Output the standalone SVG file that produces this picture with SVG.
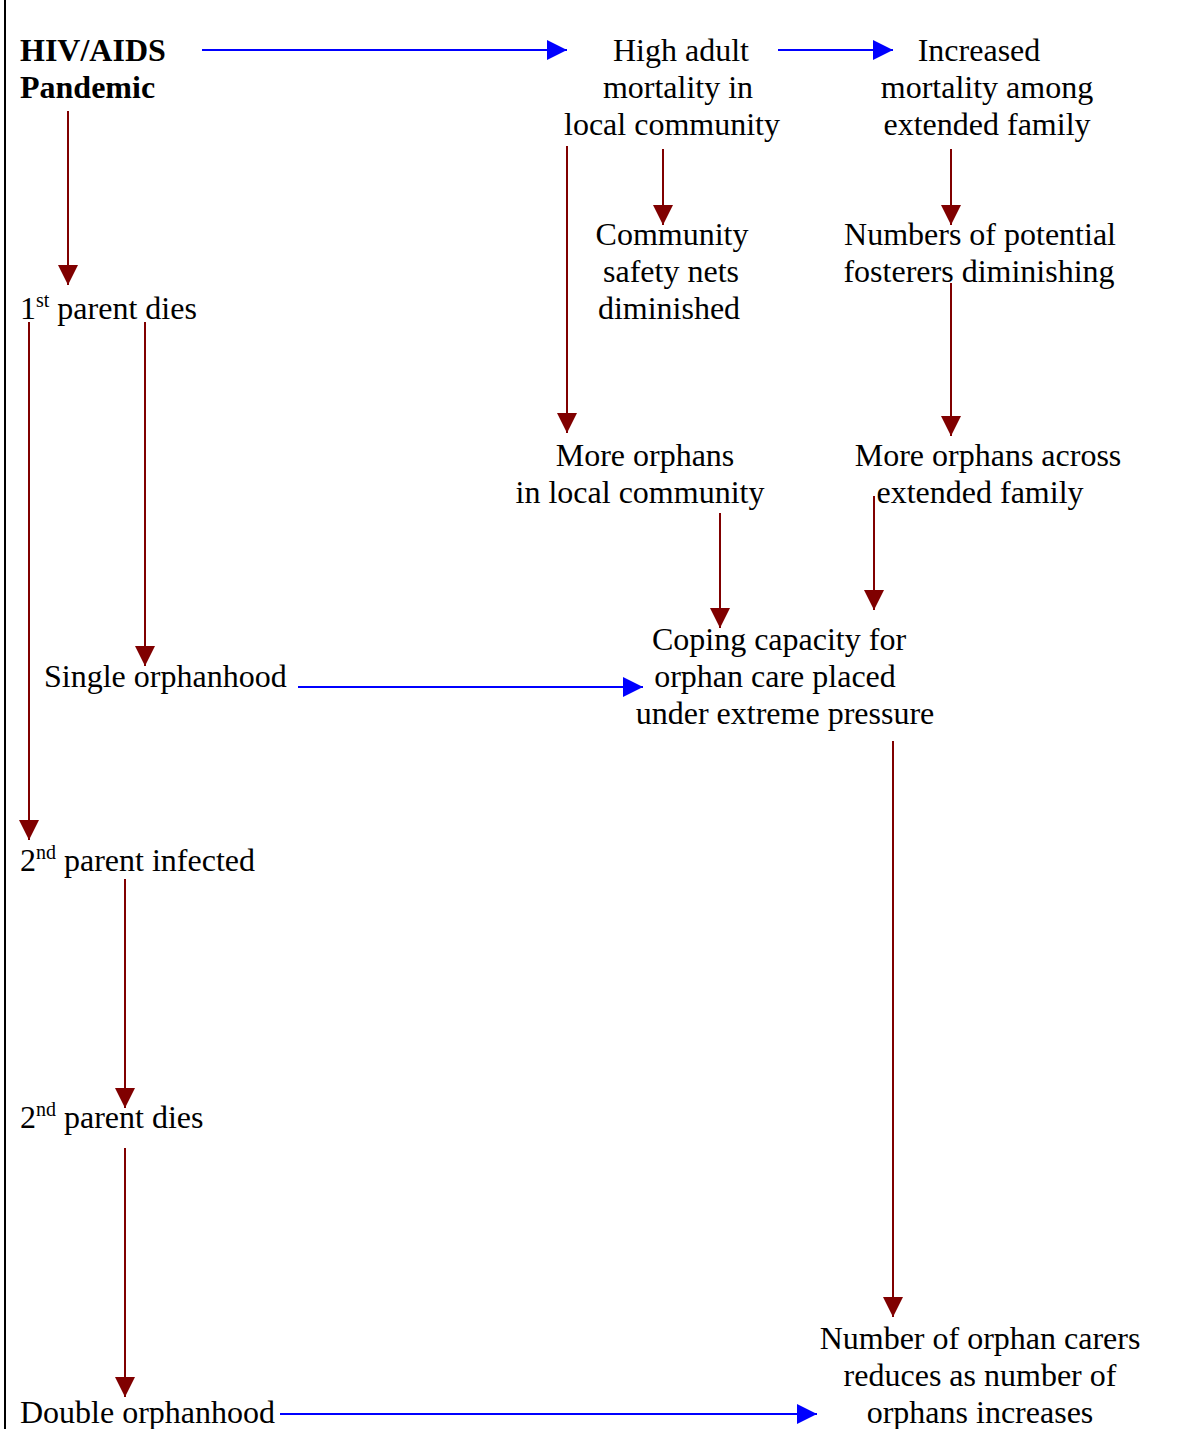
<svg xmlns="http://www.w3.org/2000/svg" width="1182" height="1429" viewBox="0 0 1182 1429">
<style>
text{font-family:"Liberation Serif","Times New Roman",serif;font-size:32px;fill:#000}
.b{font-weight:bold}
.m{text-anchor:middle}
.sup{font-size:20px}
.blue{stroke:#0000FF;stroke-width:2;fill:none;marker-end:url(#ab)}
.red{stroke:#800000;stroke-width:2;fill:none;marker-end:url(#ar)}
</style>
<defs>
<marker id="ab" markerUnits="userSpaceOnUse" markerWidth="22" markerHeight="20" refX="20" refY="10" orient="auto" viewBox="0 0 20 20"><path d="M0,0 L20,10 L0,20 z" fill="#0000FF"/></marker>
<marker id="ar" markerUnits="userSpaceOnUse" markerWidth="22" markerHeight="20" refX="20" refY="10" orient="auto" viewBox="0 0 20 20"><path d="M0,0 L20,10 L0,20 z" fill="#800000"/></marker>
</defs>
<rect width="1182" height="1429" fill="#fff"/>
<rect x="4" y="0" width="2" height="1429" fill="#000"/>
<g id="connectors">
<line class="blue" x1="202" y1="50" x2="567" y2="50"/>
<line class="blue" x1="778" y1="50" x2="893" y2="50"/>
<line class="blue" x1="298" y1="687" x2="643" y2="687"/>
<line class="blue" x1="280" y1="1414" x2="817" y2="1414"/>
<line class="red" x1="68" y1="111" x2="68" y2="285"/>
<line class="red" x1="567" y1="146" x2="567" y2="433"/>
<line class="red" x1="663" y1="149" x2="663" y2="225"/>
<line class="red" x1="951" y1="149" x2="951" y2="225"/>
<line class="red" x1="951" y1="283" x2="951" y2="436"/>
<line class="red" x1="29" y1="322" x2="29" y2="840"/>
<line class="red" x1="145" y1="322" x2="145" y2="666"/>
<line class="red" x1="720" y1="513" x2="720" y2="628"/>
<line class="red" x1="874" y1="496" x2="874" y2="610"/>
<line class="red" x1="125" y1="879" x2="125" y2="1108"/>
<line class="red" x1="893" y1="741" x2="893" y2="1317"/>
<line class="red" x1="125" y1="1148" x2="125" y2="1397"/>
</g>
<g id="hiv"><text class="b" x="20" y="61">HIV/AIDS</text><text class="b" x="20" y="98">Pandemic</text></g>
<g id="high-adult"><text class="m" x="681" y="61">High adult</text><text class="m" x="678" y="98">mortality in</text><text class="m" x="672" y="135">local community</text></g>
<g id="increased"><text class="m" x="979" y="61">Increased</text><text class="m" x="987" y="98">mortality among</text><text class="m" x="987" y="135">extended family</text></g>
<g id="safety-nets"><text class="m" x="672" y="245">Community</text><text class="m" x="671" y="282">safety nets</text><text class="m" x="669" y="319">diminished</text></g>
<g id="fosterers"><text class="m" x="980" y="245">Numbers of potential</text><text class="m" x="979" y="282">fosterers diminishing</text></g>
<g id="first-dies"><text x="20" y="319">1<tspan class="sup" dy="-12">st</tspan><tspan dy="12"> parent dies</tspan></text></g>
<g id="orphans-local"><text class="m" x="645" y="466">More orphans</text><text class="m" x="640" y="503">in local community</text></g>
<g id="orphans-extended"><text class="m" x="988" y="466">More orphans across</text><text class="m" x="980" y="503">extended family</text></g>
<g id="coping"><text class="m" x="779" y="650">Coping capacity for</text><text class="m" x="775" y="687">orphan care placed</text><text class="m" x="785" y="724">under extreme pressure</text></g>
<g id="single"><text x="44" y="687">Single orphanhood</text></g>
<g id="second-infected"><text x="20" y="871">2<tspan class="sup" dy="-12">nd</tspan><tspan dy="12"> parent infected</tspan></text></g>
<g id="second-dies"><text x="20" y="1128">2<tspan class="sup" dy="-12">nd</tspan><tspan dy="12"> parent dies</tspan></text></g>
<g id="double"><text x="20" y="1423">Double orphanhood</text></g>
<g id="carers"><text class="m" x="980" y="1349">Number of orphan carers</text><text class="m" x="980" y="1386">reduces as number of</text><text class="m" x="980" y="1423">orphans increases</text></g>
</svg>
